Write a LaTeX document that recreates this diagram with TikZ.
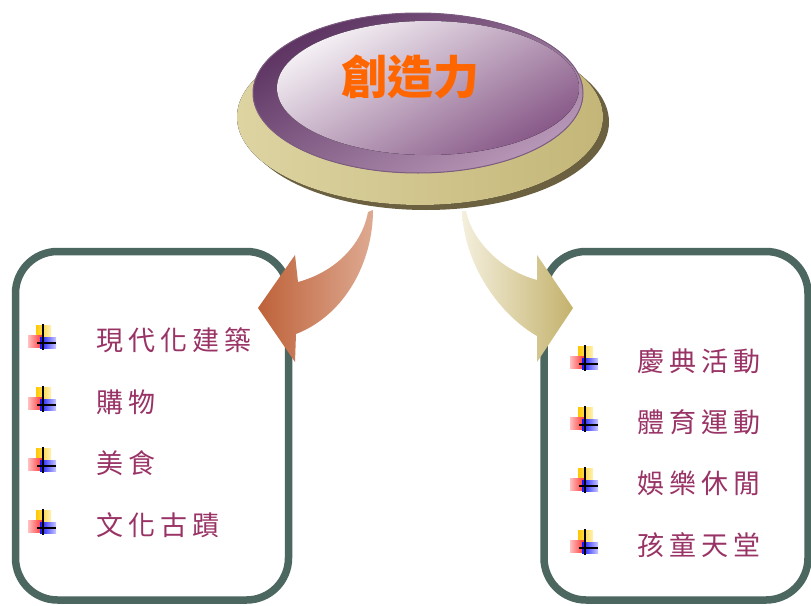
\documentclass[tikz,border=0pt]{standalone}
\usepackage{fontspec}
\newfontfamily\cjk{Noto Sans CJK TC}
\newfontfamily\cjkitem{Noto Sans CJK TC}[LetterSpace=19]
\definecolor{boxline}{HTML}{4C6660}
\definecolor{itemtxt}{HTML}{993366}
\definecolor{titletxt}{HTML}{FF6600}
\definecolor{goldA}{HTML}{DDD4A2}
\definecolor{goldB}{HTML}{C4B678}
\definecolor{goldshadow}{HTML}{6B6040}
\definecolor{purpA}{HTML}{5C3361}
\definecolor{purpB}{HTML}{B898B8}
\definecolor{purpInA}{HTML}{F5F1F5}
\definecolor{purpInB}{HTML}{875887}
\definecolor{arrLA}{HTML}{BE6239}
\definecolor{arrLB}{HTML}{DEAA92}
\definecolor{arrRA}{HTML}{F4EFDD}
\definecolor{arrRB}{HTML}{C4B26C}
\definecolor{iconY}{HTML}{FFC800}
\definecolor{iconYl}{HTML}{FFF2B8}
\definecolor{iconR}{HTML}{FF2A2A}
\definecolor{iconRl}{HTML}{FFC0C0}
\definecolor{iconB}{HTML}{1414FF}
\definecolor{iconBl}{HTML}{C8C8FF}
\begin{document}
\begin{tikzpicture}[x=1pt,y=1pt,
  boxstyle/.style={draw=boxline, line width=7.5pt, rounded corners=42pt, fill=white},
  itemlabel/.style={anchor=west, inner sep=0pt, text=itemtxt, font=\cjkitem\fontsize{27}{30}\selectfont},
  bul/.pic={
    \fill[left color=iconY, right color=iconYl] (-7,18) rectangle (8,3);
    \fill[left color=iconRl, right color=iconR] (-15,8) rectangle (0,-4);
    \fill[left color=iconB, right color=iconBl] (-3,6) rectangle (13,-5);
    \draw[black, line width=1.3pt] (0,19) -- (0,-7);
    \draw[black, line width=1.3pt] (-6,0) -- (13,0);
  }]
\useasboundingbox (0,0) rectangle (811,-605);
\fill[white] (0,0) rectangle (811,-605);

% boxes
\draw[boxstyle] (15.5,-251.5) rectangle (288.5,-600);
\draw[boxstyle] (544,-251.5) rectangle (808,-600);

% arrows
\path[left color=arrLA, right color=arrLB]
  (368,-212) .. controls (362,-245) and (335,-272) .. (298,-282)
  -- (295,-255) -- (258,-308) -- (295,-362) -- (296,-334)
  .. controls (345,-315) and (373,-262) .. (373,-210) -- cycle;
\path[left color=arrRA, right color=arrRB]
  (462,-211) .. controls (464,-265) and (500,-315) .. (537,-336)
  -- (537,-362) -- (573,-308) -- (537,-255) -- (537,-280)
  .. controls (500,-270) and (472,-240) .. (466,-211) -- cycle;

% central button
\fill[goldshadow] (426,-122) ellipse [x radius=183, y radius=88];
\fill[left color=goldA, right color=goldB] (420,-117) ellipse [x radius=183, y radius=88];
\fill[top color=purpA, bottom color=purpB, shading angle=30] (418,-93) ellipse [x radius=165, y radius=80];
\draw[purpA!80, line width=1pt] (418,-93) ellipse [x radius=165, y radius=80];
\fill[top color=purpInA, bottom color=purpInB, shading angle=30] (428,-88) ellipse [x radius=151, y radius=67];
\node[inner sep=0pt, text=titletxt, font=\cjk\bfseries\fontsize{46}{50}\selectfont] (title) at (410,-77) {創造力};

% left items
\pic at (43,-343) {bul};
\pic at (43,-405) {bul};
\pic at (43,-466) {bul};
\pic at (43,-528) {bul};
\node[itemlabel] (l1) at (96,-340) {現代化建築};
\node[itemlabel] (l2) at (96,-402) {購物};
\node[itemlabel] (l3) at (96,-463) {美食};
\node[itemlabel] (l4) at (96,-525) {文化古蹟};

% right items
\pic at (585,-364) {bul};
\pic at (585,-425) {bul};
\pic at (585,-486) {bul};
\pic at (585,-548) {bul};
\node[itemlabel] (r1) at (637,-361) {慶典活動};
\node[itemlabel] (r2) at (637,-422) {體育運動};
\node[itemlabel] (r3) at (637,-483) {娛樂休閒};
\node[itemlabel] (r4) at (637,-545) {孩童天堂};
\end{tikzpicture}
\end{document}
